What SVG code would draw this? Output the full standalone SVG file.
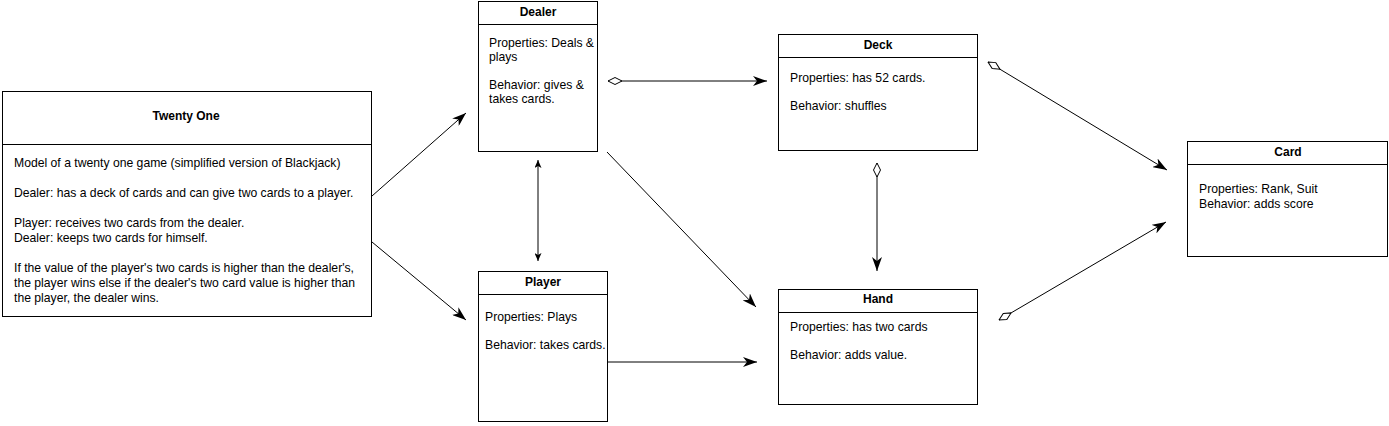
<svg xmlns="http://www.w3.org/2000/svg" width="1389" height="426" viewBox="0 0 1389 426">
<style>
.box{fill:#fff;stroke:#000;stroke-width:1}
.div{stroke:#000;stroke-width:1}
.t{font-family:"Liberation Sans",Arial,sans-serif;font-size:12.2px;fill:#000}
.b{font-weight:bold;text-anchor:middle;font-size:12px}
.c{stroke:#000;stroke-width:1;fill:none}
</style>
<defs>
<marker id="arr" viewBox="0 0 14 10" refX="14" refY="5" markerWidth="14" markerHeight="10" markerUnits="userSpaceOnUse" orient="auto"><path d="M0,0 L14,5 L0,10 L4,5 Z" fill="#000"/></marker>
<marker id="sarr" viewBox="0 0 8 7" refX="8" refY="3.5" markerWidth="8" markerHeight="7" markerUnits="userSpaceOnUse" orient="auto-start-reverse"><path d="M0,0 L8,3.5 L0,7 L2,3.5 Z" fill="#000"/></marker>
<marker id="dia" viewBox="0 0 15 8" refX="0.5" refY="4" markerWidth="15" markerHeight="8" markerUnits="userSpaceOnUse" orient="auto"><path d="M0.5,4 L7.5,0.5 L14.5,4 L7.5,7.5 Z" fill="#fff" stroke="#000" stroke-width="1"/></marker>
</defs>
<g id="connectors">
<line class="c" x1="372" y1="196" x2="466" y2="113" marker-end="url(#arr)"/>
<line class="c" x1="372" y1="242" x2="466" y2="320" marker-end="url(#arr)"/>
<line class="c" x1="538" y1="160" x2="538" y2="261" marker-start="url(#sarr)" marker-end="url(#sarr)"/>
<line class="c" x1="608" y1="81" x2="767" y2="81" marker-start="url(#dia)" marker-end="url(#arr)"/>
<line class="c" x1="607" y1="152" x2="756" y2="307" marker-end="url(#arr)"/>
<line class="c" x1="608" y1="362" x2="757" y2="362" marker-end="url(#arr)"/>
<line class="c" x1="877" y1="163" x2="877" y2="271" marker-start="url(#dia)" marker-end="url(#arr)"/>
<line class="c" x1="988" y1="62" x2="1167" y2="170" marker-start="url(#dia)" marker-end="url(#arr)"/>
<line class="c" x1="999" y1="320" x2="1166" y2="222" marker-start="url(#dia)" marker-end="url(#arr)"/>
</g>
<g id="twentyone">
<rect class="box" x="2.5" y="91.5" width="369" height="225"/>
<line class="div" x1="2.5" y1="144.5" x2="371.5" y2="144.5"/>
<text class="t b" x="186" y="120">Twenty One</text>
<text class="t" x="14" y="167">Model of a twenty one game (simplified version of Blackjack)</text>
<text class="t" x="14" y="197">Dealer: has a deck of cards and can give two cards to a player.</text>
<text class="t" x="14" y="227">Player: receives two cards from the dealer.</text>
<text class="t" x="14" y="242">Dealer: keeps two cards for himself.</text>
<text class="t" x="14" y="272">If the value of the player's two cards is higher than the dealer's,</text>
<text class="t" x="14" y="287">the player wins else if the dealer's two card value is higher than</text>
<text class="t" x="14" y="302">the player, the dealer wins.</text>
</g>
<g id="dealer">
<rect class="box" x="478.5" y="1.5" width="119" height="150"/>
<line class="div" x1="478.5" y1="24.5" x2="597.5" y2="24.5"/>
<text class="t b" x="538" y="16">Dealer</text>
<text class="t" x="489" y="47">Properties: Deals &amp;</text>
<text class="t" x="489" y="61">plays</text>
<text class="t" x="489" y="89">Behavior: gives &amp;</text>
<text class="t" x="489" y="103">takes cards.</text>
</g>
<g id="deck">
<rect class="box" x="778.5" y="34.5" width="199" height="116"/>
<line class="div" x1="778.5" y1="57.5" x2="977.5" y2="57.5"/>
<text class="t b" x="878" y="49">Deck</text>
<text class="t" x="790" y="82">Properties: has 52 cards.</text>
<text class="t" x="790" y="110">Behavior: shuffles</text>
</g>
<g id="player">
<rect class="box" x="478.5" y="271.5" width="129" height="150"/>
<line class="div" x1="478.5" y1="294.5" x2="607.5" y2="294.5"/>
<text class="t b" x="543" y="286">Player</text>
<text class="t" x="485" y="321">Properties: Plays</text>
<text class="t" x="485" y="349">Behavior: takes cards.</text>
</g>
<g id="hand">
<rect class="box" x="778.5" y="289.5" width="199" height="115"/>
<line class="div" x1="778.5" y1="312.5" x2="977.5" y2="312.5"/>
<text class="t b" x="878" y="303">Hand</text>
<text class="t" x="790" y="331">Properties: has two cards</text>
<text class="t" x="790" y="359">Behavior: adds value.</text>
</g>
<g id="card">
<rect class="box" x="1187.5" y="141.5" width="200" height="115"/>
<line class="div" x1="1187.5" y1="164.5" x2="1387.5" y2="164.5"/>
<text class="t b" x="1288" y="156">Card</text>
<text class="t" x="1199" y="193">Properties: Rank, Suit</text>
<text class="t" x="1199" y="208">Behavior: adds score</text>
</g>
</svg>
